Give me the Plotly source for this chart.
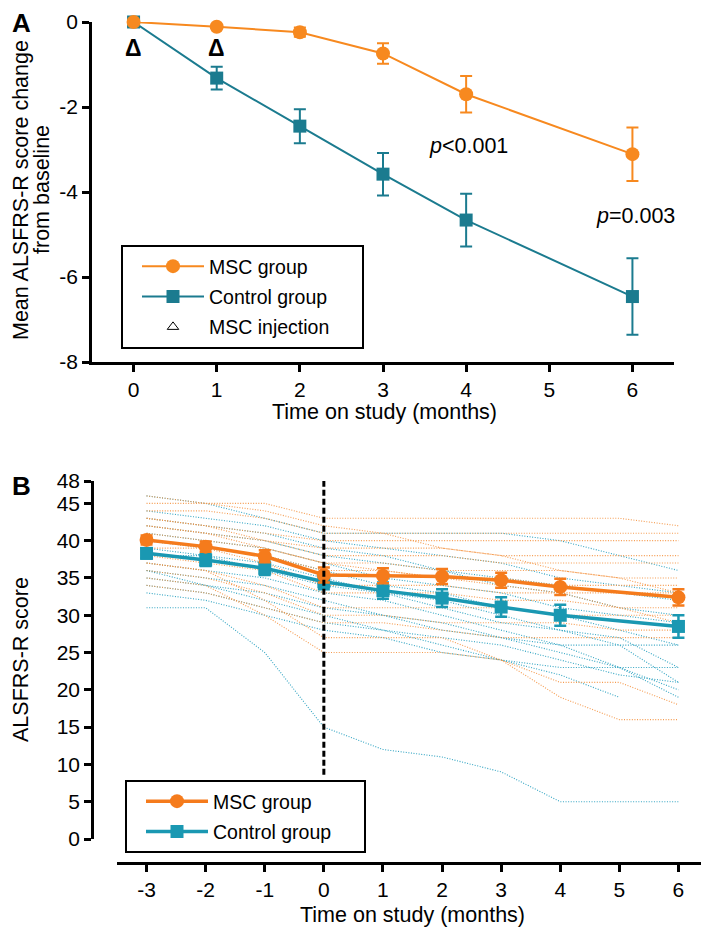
import plotly.graph_objects as go

# ---- panel A: mean change from baseline ----
months_a = [0, 1, 2, 3, 4, 6]
msc_change = [0, -0.11, -0.24, -0.74, -1.70, -3.11]
msc_change_err = [0, 0, 0.11, 0.24, 0.43, 0.63]
ctrl_change = [0, -1.32, -2.45, -3.58, -4.66, -6.46]
ctrl_change_err = [0, 0.27, 0.40, 0.50, 0.62, 0.90]

a_yticks = [0, -2, -4, -6, -8]
a_yticklabels = ["0", "-2", "-4", "-6", "-8"]
a_xticks = [0, 1, 2, 3, 4, 5, 6]

# ---- panel B: ALSFRS-R score over time ----
months_b = [-3, -2, -1, 0, 1, 2, 3, 4, 5, 6]
mean_months_b = [-3, -2, -1, 0, 1, 2, 3, 4, 6]
msc_mean = [40.1, 39.2, 37.9, 35.4, 35.3, 35.2, 34.7, 33.8, 32.4]
msc_mean_err = [0.6, 0.7, 0.8, 1.0, 1.0, 1.0, 1.0, 1.1, 1.1]
ctrl_mean = [38.3, 37.4, 36.3, 34.5, 33.3, 32.3, 31.1, 30.0, 28.5]
ctrl_mean_err = [0.7, 0.8, 0.9, 1.0, 1.1, 1.2, 1.3, 1.4, 1.5]

msc_patients = [
    [45, 45, 45, 43, 43, 43, 43, 43, 43, 42],
    [44, 44, 43, 41, 41, 41, 41, 41, 41, 41],
    [43, 42, 41, 40, 40, 40, 40, 40, 40, 40],
    [42, 41, 40, 39, 39, 39, 38, 38, 38, 38],
    [43, 42, 40, 38, 38, 38, 37, 37, 37, 37],
    [41, 40, 39, 37, 37, 36, 36, 36, 35, 35],
    [40, 39, 38, 36, 36, 35, 35, 34, 34, 34],
    [39, 39, 37, 34, 34, 34, 33, 33, 33, 33],
    [38, 37, 36, 33, 33, 33, 32, 32, 31, 31],
    [37, 36, 34, 31, 31, 31, 31, 30, 30, 30],
    [36, 35, 33, 30, 30, 29, 29, 29, 28, 28],
    [35, 34, 30, 25, 25, 25, 24, 21, 21, 18],
    [37, 36, 32, 27, 27, 27, 24, 19, 16, 16],
    [34, 33, 31, 29, 29, 28, 27, 27, 27, 27],
    [42, 41, 39, 37, 36, 35, 34, 33, 31, 29],
    [46, 45, 44, 42, 41, 39, 38, 36, 35, 33],
]
ctrl_patients = [
    [46, 45, 43, 41, 41, 41, 41, 40, 38, 36],
    [44, 43, 42, 40, 39, 38, 37, 35, 34, 33],
    [43, 42, 41, 39, 38, 36, 35, 34, 33, 32],
    [42, 41, 40, 38, 37, 36, 34, 33, 31, 30],
    [41, 40, 39, 37, 35, 34, 33, 31, 30, 29],
    [40, 39, 38, 36, 34, 33, 31, 30, 28, 26],
    [39, 38, 37, 35, 33, 32, 30, 28, 27, 23],
    [38, 38, 36, 34, 33, 31, 29, 28, 26, 21],
    [37, 36, 35, 33, 32, 30, 28, 26, 23, 20],
    [36, 35, 34, 32, 30, 29, 27, 25, 23, 19],
    [35, 34, 32, 30, 28, 26, 24, 22, 19, None],
    [33, 32, 30, 28, 27, 25, 24, 23, 23, 23],
    [31, 31, 25, 15, 12, 11, 9, 5, 5, 5],
    [34, 33, 31, 29, 28, 27, 26, 24, 22, 21],
    [36, 34, 33, 31, 30, 28, 27, 26, 26, 26],
]

b_yticks = [0, 5, 10, 15, 20, 25, 30, 35, 40, 45, 48]
b_xticks = [-3, -2, -1, 0, 1, 2, 3, 4, 5, 6]
b_xticklabels = ["-3", "-2", "-1", "0", "1", "2", "3", "4", "5", "6"]

ORANGE_A = "#f7891f"
TEAL_A = "#1b7b8f"
ORANGE_B = "#f57b1c"
TEAL_B = "#1a98b2"
FONT = "Liberation Sans, Arial, sans-serif"
W, H = 709, 930
OFF = 8  # page body margin


def px(x):
    return (x - OFF) / W


def py(y):
    return 1 - (y - OFF) / H


NBSP = "\u00a0"

fig = go.Figure()

# panel A
fig.add_trace(go.Scatter(
    x=months_a, y=ctrl_change, mode="lines+markers", name="Control group",
    line=dict(color=TEAL_A, width=2), marker=dict(symbol="square", size=13, color=TEAL_A),
    error_y=dict(type="data", array=ctrl_change_err, color=TEAL_A, thickness=2, width=6),
    cliponaxis=False, legend="legend", legendrank=2, legendgroup="a2",
    xaxis="x", yaxis="y",
))
fig.add_trace(go.Scatter(
    x=months_a, y=msc_change, mode="lines+markers", name="MSC group",
    line=dict(color=ORANGE_A, width=2), marker=dict(symbol="circle", size=14, color=ORANGE_A),
    error_y=dict(type="data", array=msc_change_err, color=ORANGE_A, thickness=2, width=6),
    cliponaxis=False, legend="legend", legendrank=1, legendgroup="a1",
    xaxis="x", yaxis="y",
))
fig.add_trace(go.Scatter(
    x=[None], y=[None], mode="markers", name="MSC injection" + NBSP * 5,
    marker=dict(symbol="triangle-up-open", size=10, color="black", line=dict(width=1)),
    legend="legend", legendrank=3, legendgroup="a3", xaxis="x", yaxis="y",
))

# panel B individual patients
for pts in ctrl_patients:
    fig.add_trace(go.Scatter(
        x=months_b, y=pts, mode="lines", showlegend=False, hoverinfo="skip",
        line=dict(color="rgba(40,160,192,0.95)", width=1.1, dash="1px,1.6px"),
        xaxis="x2", yaxis="y2",
    ))
for pts in msc_patients:
    fig.add_trace(go.Scatter(
        x=months_b, y=pts, mode="lines", showlegend=False, hoverinfo="skip",
        line=dict(color="rgba(244,150,70,0.95)", width=1.1, dash="1px,1.6px"),
        xaxis="x2", yaxis="y2",
    ))

# panel B means
fig.add_trace(go.Scatter(
    x=mean_months_b, y=ctrl_mean, mode="lines+markers", name="Control group" + NBSP * 5,
    line=dict(color=TEAL_B, width=3.5), marker=dict(symbol="square", size=13, color=TEAL_B),
    error_y=dict(type="data", array=ctrl_mean_err, color=TEAL_B, thickness=2.5, width=6),
    cliponaxis=False, legend="legend2", legendrank=2, legendgroup="b2",
    xaxis="x2", yaxis="y2",
))
fig.add_trace(go.Scatter(
    x=mean_months_b, y=msc_mean, mode="lines+markers", name="MSC group",
    line=dict(color=ORANGE_B, width=3.5), marker=dict(symbol="circle", size=14, color=ORANGE_B),
    error_y=dict(type="data", array=msc_mean_err, color=ORANGE_B, thickness=2.5, width=6),
    cliponaxis=False, legend="legend2", legendrank=1, legendgroup="b1",
    xaxis="x2", yaxis="y2",
))

axis_style = dict(
    showline=True, linecolor="black", linewidth=2.5, ticks="outside", ticklen=7,
    tickwidth=2.5, tickcolor="black", showgrid=False, zeroline=False, automargin=False,
    tickfont=dict(size=21, color="black", family=FONT),
)

legend_style = dict(
    xanchor="left", yanchor="top", bgcolor="white", bordercolor="black",
    borderwidth=2, font=dict(size=19.5, color="black", family=FONT),
    itemwidth=62, indentation=14, tracegroupgap=2,
)

fig.update_layout(
    template="none",
    width=W, height=H,
    margin=dict(l=0, r=0, t=0, b=0, autoexpand=False),
    paper_bgcolor="white", plot_bgcolor="white",
    font=dict(family=FONT, color="black"),
    xaxis=dict(domain=[px(92), px(674)], range=[-0.5, 6.5], anchor="y",
               tickvals=a_xticks, **axis_style),
    yaxis=dict(domain=[py(362), py(22)], range=[-8, 0], anchor="x",
               tickvals=a_yticks, ticktext=a_yticklabels, **axis_style),
    xaxis2=dict(domain=[px(117), px(708)], range=[-3.5, 6.5], anchor="free",
                position=py(863), tickvals=b_xticks, ticktext=b_xticklabels,
                **axis_style),
    yaxis2=dict(domain=[py(839), py(481)], range=[0, 48], anchor="free",
                position=px(92), tickvals=b_yticks, **axis_style),
    legend=dict(x=px(121), y=py(245), **legend_style),
    legend2=dict(x=px(125), y=py(780), **legend_style),
    showlegend=True,
)

fig.add_shape(type="line", xref="x2", yref="y2", x0=0, x1=0, y0=8.6, y1=48.8,
              line=dict(color="black", width=3, dash="6px,3px"))

ann_font = dict(size=21.5, color="black", family=FONT)


def paper_text(text, x, y, angle=0, size=21.5):
    return dict(text=text, x=px(x), y=py(y), xref="paper", yref="paper",
                xanchor="center", yanchor="middle", textangle=angle, showarrow=False,
                font=dict(size=size, color="black", family=FONT))


annotations = [
    paper_text("<b>A</b>", 21, 23, size=26),
    paper_text("<b>B</b>", 21, 486, size=26),
    dict(text="<b>Δ</b>", x=0, y=-0.62, xref="x", yref="y", showarrow=False,
         font=dict(size=23, color="black", family=FONT)),
    dict(text="<b>Δ</b>", x=1, y=-0.62, xref="x", yref="y", showarrow=False,
         font=dict(size=23, color="black", family=FONT)),
    dict(text="<i>p</i>&lt;0.001", x=4.03, y=-2.91, xref="x", yref="y", showarrow=False, font=ann_font),
    dict(text="<i>p</i>=0.003", x=6.04, y=-4.56, xref="x", yref="y", showarrow=False, font=ann_font),
    paper_text("Mean ALSFRS-R score change", 21, 190, angle=-90),
    paper_text("from baseline", 42, 190, angle=-90),
    paper_text("Time on study (months)", 385, 412),
    paper_text("ALSFRS-R score", 21, 660, angle=-90),
    paper_text("Time on study (months)", 412, 915),
]
fig.update_layout(annotations=annotations)

fig.write_html("out.html")
